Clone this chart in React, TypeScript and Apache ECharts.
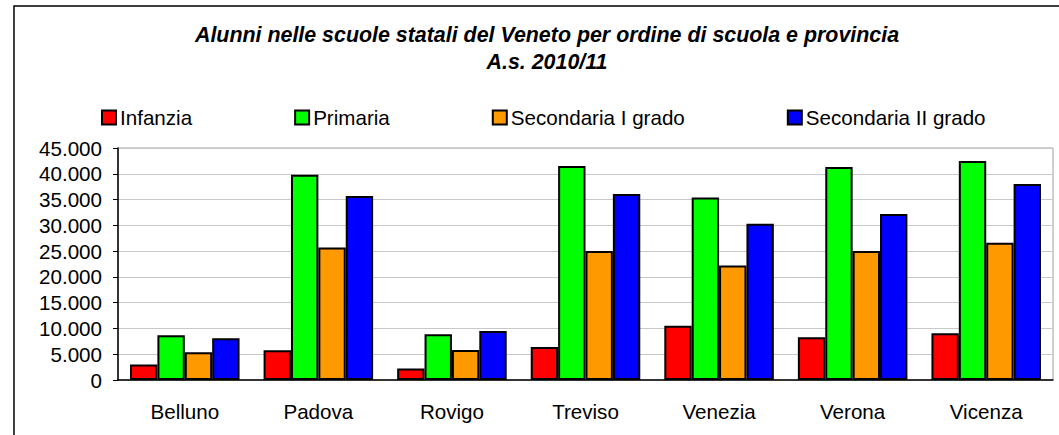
import React, { useEffect, useRef } from "react";
import * as echarts from "echarts";

const categories = ["Belluno", "Padova", "Rovigo", "Treviso", "Venezia", "Verona", "Vicenza"];
const seriesNames = ["Infanzia", "Primaria", "Secondaria I grado", "Secondaria II grado"];
const infanzia = [3000, 5750, 2250, 6400, 10500, 8300, 9050];
const primaria = [8700, 39800, 8850, 41500, 35400, 41300, 42500];
const secondariaI = [5400, 25700, 5800, 25000, 22200, 25000, 26600];
const secondariaII = [8100, 35700, 9500, 36100, 30300, 32200, 38000];
const colors = ["#FF0000", "#00FF00", "#FF9900", "#0000FF"];
const titleText = "Alunni nelle scuole statali del Veneto per ordine di scuola e provincia\nA.s. 2010/11";

const FONT = "'Liberation Sans', Arial, sans-serif";

export default function App() {
  const ref = useRef<HTMLDivElement>(null);
  useEffect(() => {
    if (!ref.current) return;
    const chart = echarts.init(ref.current, null, { renderer: "svg" });
    const values = [infanzia, primaria, secondariaI, secondariaII];
    chart.setOption({
      animation: false,
      backgroundColor: "#ffffff",
      textStyle: { fontFamily: FONT },
      title: {
        text: titleText,
        left: 542,
        top: 16,
        textAlign: "center",
        textStyle: {
          fontFamily: FONT,
          fontSize: 21.4,
          fontWeight: "bold",
          fontStyle: "italic",
          color: "#000",
          lineHeight: 27,
        },
      },
      graphic: [
        {
          type: "rect",
          shape: { x: 14, y: 6, width: 1200, height: 600 },
          style: { fill: "none", stroke: "#000", lineWidth: 1.5 },
          silent: true,
        },
      ],
      legend: {
        left: 96,
        top: 102,
        itemWidth: 14,
        itemHeight: 14,
        itemGap: 102,
        icon: "rect",
        textStyle: { fontFamily: FONT, fontSize: 20.6, color: "#000", padding: [0, 0, 0, -1] },
        data: seriesNames,
      },
      grid: {
        left: 118,
        right: 6,
        top: 148,
        bottom: 55,
        show: true,
        borderColor: "#a0a0a0",
        borderWidth: 1,
        backgroundColor: "transparent",
      },
      xAxis: {
        type: "category",
        data: categories,
        axisLine: { lineStyle: { color: "#000", width: 1.5 } },
        axisTick: { show: false },
        axisLabel: { fontFamily: FONT, fontSize: 20.6, color: "#000", margin: 21 },
      },
      yAxis: {
        type: "value",
        min: 0,
        max: 45000,
        interval: 5000,
        axisLine: { show: true, lineStyle: { color: "#000", width: 1.5 } },
        axisTick: { show: true, length: 5, lineStyle: { color: "#000" } },
        splitLine: { lineStyle: { color: "#c8c8c8", width: 1 } },
        axisLabel: {
          fontFamily: FONT,
          fontSize: 20.6,
          color: "#000",
          margin: 16,
          formatter: (v: number) => v.toLocaleString("de-DE"),
        },
      },
      series: seriesNames.map((name, i) => ({
        name,
        type: "bar",
        data: values[i],
        barGap: "0%",
        barCategoryGap: "18%",
        itemStyle: { color: colors[i], borderColor: "#000", borderWidth: 2 },
      })),
    });
    return () => chart.dispose();
  }, []);
  return (
    <div
      ref={ref}
      style={{ position: "fixed", left: 0, top: 0, width: 1059, height: 435 }}
    />
  );
}
